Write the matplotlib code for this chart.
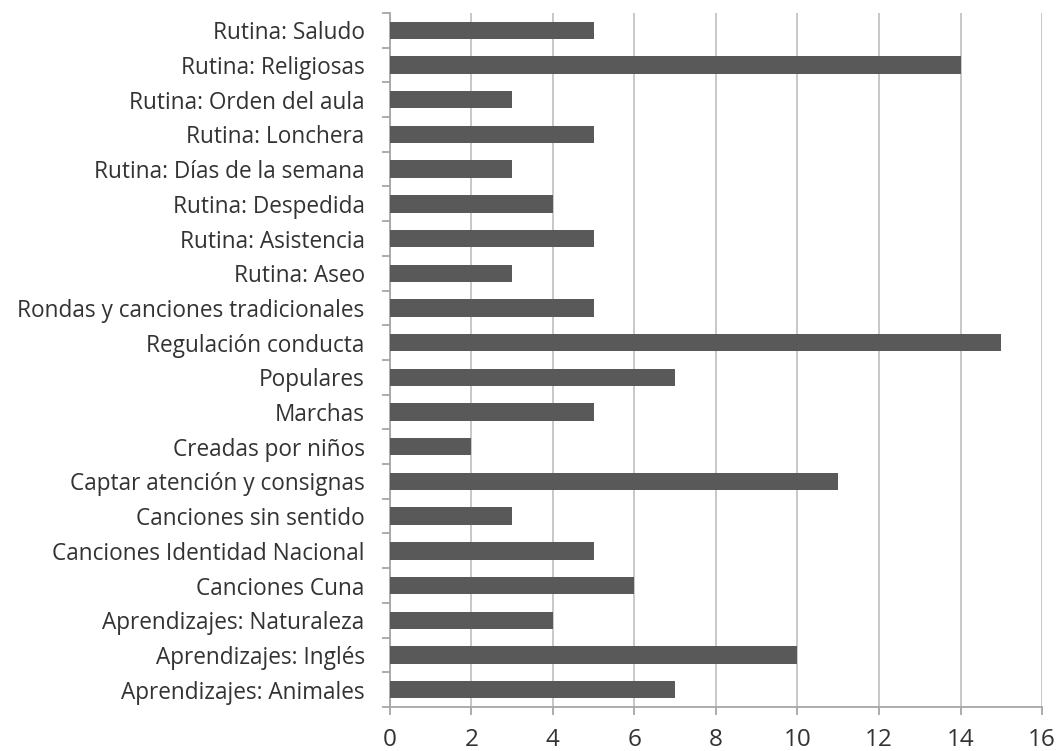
import matplotlib
matplotlib.use("Agg")
import matplotlib.pyplot as plt
import numpy as np

plt.rcParams['font.family'] = ['Open Sans', 'DejaVu Sans']

# categories listed bottom to top, same as the chart
categorias = [
    "Aprendizajes: Animales",
    "Aprendizajes: Inglés",
    "Aprendizajes: Naturaleza",
    "Canciones Cuna",
    "Canciones Identidad Nacional",
    "Canciones sin sentido",
    "Captar atención y consignas",
    "Creadas por niños",
    "Marchas",
    "Populares",
    "Regulación conducta",
    "Rondas y canciones tradicionales",
    "Rutina: Aseo",
    "Rutina: Asistencia",
    "Rutina: Despedida",
    "Rutina: Días de la semana",
    "Rutina: Lonchera",
    "Rutina: Orden del aula",
    "Rutina: Religiosas",
    "Rutina: Saludo",
]
valores = [7, 10, 4, 6, 5, 3, 11, 2, 5, 7, 15, 5, 3, 5, 4, 3, 5, 3, 14, 5]
ticks_x = [0, 2, 4, 6, 8, 10, 12, 14, 16]

fig = plt.figure(figsize=(10.59, 7.51), dpi=100)
ax = fig.add_axes([0.368, 0.0586, 0.616, 0.9241])

y = np.arange(len(categorias))
ax.barh(y, valores, height=0.5, color='#595959', zorder=3)

ax.set_xlim(0, 16)
ax.set_ylim(-0.5, len(categorias) - 0.5)
ax.set_xticks(ticks_x)
ax.set_yticks(y)
ax.set_yticklabels(categorias)
ax.set_yticks(np.arange(len(categorias) + 1) - 0.5, minor=True)

ax.grid(axis='x', color='#c4c4c4', linewidth=1.3, zorder=0)
for s in ['top', 'right']:
    ax.spines[s].set_visible(False)
for s in ['left', 'bottom']:
    ax.spines[s].set_color('#a6a6a6')
    ax.spines[s].set_linewidth(1.3)

ax.tick_params(axis='y', which='major', length=0, pad=18, labelsize=16.3, colors='#333333')
ax.tick_params(axis='y', which='minor', length=6, color='#a6a6a6', width=1.3)
ax.tick_params(axis='x', length=6, color='#a6a6a6', width=1.3, labelsize=17.5, pad=9, labelcolor='#333333')

fig.savefig('out.png', dpi=100)
